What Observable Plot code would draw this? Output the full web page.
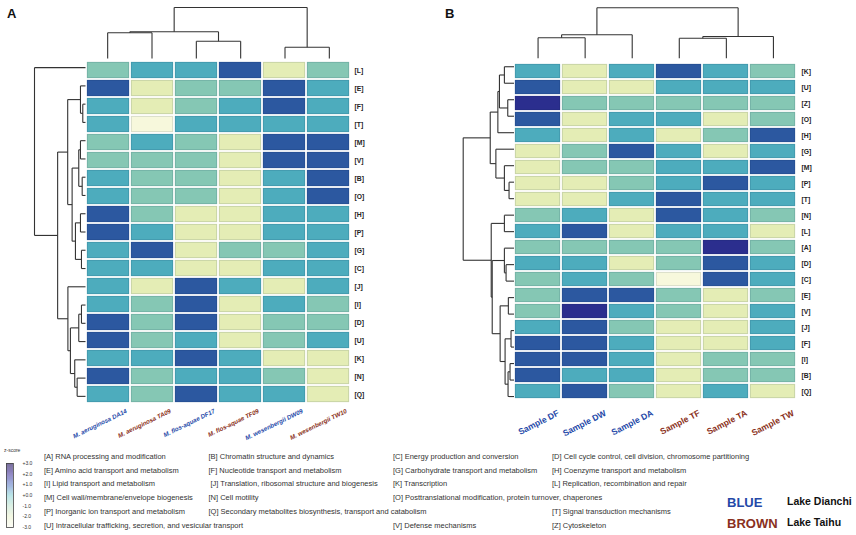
<!DOCTYPE html>
<html><head><meta charset="utf-8">
<script src="https://cdn.jsdelivr.net/npm/d3@7"></script>
<script src="https://cdn.jsdelivr.net/npm/@observablehq/plot@0.6"></script>
<style>
html,body{margin:0;padding:0;background:#fff;}
#root{position:relative;width:856px;height:535px;overflow:hidden;font-family:"Liberation Sans",Arial,sans-serif;}
#root .abs{position:absolute;}
.leg{position:absolute;font-size:7.5px;line-height:10px;color:#333;white-space:nowrap;}
.panel{position:absolute;font-size:13px;line-height:1;font-weight:bold;color:#111;}
</style></head><body><div id="root"></div>
<script>
// ---------- Panel A data ----------
const colsA = ["M. aeruginosa DA14","M. aeruginosa TA09","M. flos-aquae DF17","M. flos-aquae TF09","M. wesenbergii DW09","M. wesenbergii TW10"];
const lakesA = ["Dianchi","Taihu","Dianchi","Taihu","Dianchi","Taihu"];
const rowsA = ["[L]","[E]","[F]","[T]","[M]","[V]","[B]","[O]","[H]","[P]","[G]","[C]","[J]","[I]","[D]","[U]","[K]","[N]","[Q]"];
const zA = [
 [0,1,1,2,-1,0],
 [2,-1,0,0,2,1],
 [1,-1,0,1,2,1],
 [1,-2,1,1,1,1],
 [0,1,0,-1,2,2],
 [0,0,0,-1,2,2],
 [1,0,0,-1,1,2],
 [1,0,0,-1,1,2],
 [2,0,-1,-1,1,1],
 [2,1,-1,-1,1,1],
 [1,2,-1,0,0,1],
 [1,1,-1,-1,1,1],
 [1,-1,2,1,-1,1],
 [1,0,2,-1,1,0],
 [2,0,2,-1,0,0],
 [2,0,1,-1,0,1],
 [1,1,2,1,-1,-1],
 [2,0,1,1,0,-1],
 [1,0,2,1,1,-1]
];
// dendrograms: [left, right, mergeHeight], leaves are indices
const colTreeA = [[[0,1,25.7],[2,3,17.3],26.7],[4,5,11.3],51];
const rowTreeA = [0,
  [
    [[1,[2,3,2.7],5], [[[4,5,5],[6,7,3.3],6.7], [[8,9,5],[10,11,4],10], 13.3], 17.7],
    [12, [[[13,14,4],15,6.7], [16,[17,18,8.3],10.7], 15], 17.5],
    27.7],
  50.7];

// ---------- Panel B data ----------
const colsB = ["Sample DF","Sample DW","Sample DA","Sample TF","Sample TA","Sample TW"];
const lakesB = ["Dianchi","Dianchi","Dianchi","Taihu","Taihu","Taihu"];
const rowsB = ["[K]","[U]","[Z]","[O]","[H]","[G]","[M]","[P]","[T]","[N]","[L]","[A]","[D]","[C]","[E]","[V]","[J]","[F]","[I]","[B]","[Q]"];
const zB = [
 [1,-1,1,2,1,0],
 [2,-1,-1,1,1,1],
 [3,0,0,0,0,0],
 [2,-1,1,1,-1,0],
 [1,-1,1,-1,0,2],
 [-1,0,2,1,-1,1],
 [-1,0,0,1,1,2],
 [-1,-1,0,1,2,1],
 [-1,-1,1,2,1,1],
 [0,1,-1,2,1,0],
 [1,2,-1,1,1,-1],
 [0,0,0,0,3,0],
 [1,1,-1,0,2,1],
 [0,1,0,-2,2,1],
 [0,2,2,0,-1,0],
 [0,3,1,0,-1,1],
 [1,2,0,-1,-1,1],
 [2,2,1,-1,-1,1],
 [2,2,1,-1,0,0],
 [2,1,1,-1,0,0],
 [1,2,0,-1,1,-1]
];
const colTreeB = [[[0,1,20.4],2,23.4],[[3,4,20],5,21.7],50.4];
const rowTreeB = [
  [[[[0,1,9.7],[2,3,6.3],14.7],4,16.3], [5,[6,[7,8,5],9.7],18.3], 24],
  [[9,10,9.7], [[11,[12,13,8],9.7], [[14,15,5.7], [[16,17,3],[[18,19,4],20,6],9], 14], 22], 23],
  51.3];

// ---------- legend data ----------
const zTicks = [3,2,1,0,-1,-2,-3];
const zTickLabels = ["+3.0","+2.0","+1.0","+0.0","-1.0","-2.0","-3.0"];
const cogLegend = [
 [["[A] RNA processing and modification",0],["[B] Chromatin structure and dynamics",1],["[C] Energy production and conversion",2],["[D] Cell cycle control, cell division, chromosome partitioning",3]],
 [["[E] Amino acid transport and metabolism",0],["[F] Nucleotide transport and metabolism",1],["[G] Carbohydrate transport and metabolism",2],["[H] Coenzyme transport and metabolism",3]],
 [["[I] Lipid transport and metabolism",0],["[J] Translation, ribosomal structure and biogenesis",1],["[K] Transcription",2],["[L] Replication, recombination and repair",3]],
 [["[M] Cell wall/membrane/envelope biogenesis",0],["[N] Cell motility",1],["[O] Posttranslational modification, protein turnover, chaperones",2]],
 [["[P] Inorganic ion transport and metabolism",0],["[Q] Secondary metabolites biosynthesis, transport and catabolism",1],["[T] Signal transduction mechanisms",3]],
 [["[U] Intracellular trafficking, secretion, and vesicular transport",0],["[V] Defense mechanisms",2],["[Z] Cytoskeleton",3]]
];
const lakeKey = [["BLUE","Lake Dianchi"],["BROWN","Lake Taihu"]];

// ---------- rendering ----------
const root = document.getElementById("root");
const FONT = "Liberation Sans, Arial, sans-serif";
const svgStyle = {background:"transparent", overflow:"visible", fontFamily:FONT, maxWidth:"none"};
const BLUE = "#2448a8", BROWN = "#8a3020";
function place(el, left, top){ el.classList.add("abs"); el.style.left = left+"px"; el.style.top = top+"px"; root.appendChild(el); return el; }

function treeSegments(tree){
  const segs = [];
  function walk(n){
    if (typeof n === "number") return {p:n, h:0};
    const [a,b,h] = n;
    const A = walk(a), B = walk(b);
    segs.push({p1:A.p, h1:A.h, p2:A.p, h2:h});
    segs.push({p1:B.p, h1:B.h, p2:B.p, h2:h});
    segs.push({p1:A.p, h1:h, p2:B.p, h2:h});
    return {p:(A.p+B.p)/2, h};
  }
  walk(tree);
  return segs;
}

const heatColor = {type:"linear", domain:[-2,-1,0,1,2,3],
  range:["#f7f8dc","#e4edb5","#85c7b4","#4dacbd","#2c58a0","#2b2e8e"], interpolate:"rgb"};

function heatmap(o){
  const cells = [];
  o.rows.forEach((r,i)=>o.cols.forEach((c,j)=>cells.push({row:r, col:c, z:o.z[i][j]})));
  const labels = o.cols.map((c,j)=>({col:c, lake:o.lakes[j]}));
  const labelOpts = {x:"col", text:"col", frameAnchor:"bottom", textAnchor:"end", lineAnchor:"top",
    rotate:o.rotate, dx:o.dx, dy:o.dy, fontSize:o.colFont, fontWeight:"bold", fontStyle:o.italic?"italic":"normal"};
  return Plot.plot({
    width:o.width, height:o.height, marginLeft:o.mL, marginRight:o.mR, marginTop:o.mT, marginBottom:o.mB,
    style:svgStyle,
    x:{domain:o.cols, padding:0, axis:null},
    y:{domain:o.rows, padding:0, label:null},
    color:heatColor,
    marks:[
      Plot.cell(cells,{x:"col", y:"row", fill:"z", inset:0.9}),
      Plot.cell(cells,{x:"col", y:"row", fill:"none", stroke:"#0a2040", strokeOpacity:0.12, strokeWidth:1, inset:1.4}),
      Plot.axisY({anchor:"right", tickSize:0, tickPadding:o.rowPad, fontSize:o.rowFont, fontWeight:"bold", fill:"#222", label:null}),
      Plot.text(labels.filter(d=>d.lake==="Dianchi"), {...labelOpts, fill:BLUE}),
      Plot.text(labels.filter(d=>d.lake==="Taihu"), {...labelOpts, fill:BROWN})
    ]
  });
}

function colDendro(tree, n, width, height, mTop){
  const segs = treeSegments(tree);
  return Plot.plot({
    width, height, marginLeft:0, marginRight:0, marginTop:mTop, marginBottom:0, style:svgStyle,
    x:{domain:[-0.5, n-0.5], axis:null},
    y:{domain:[0, tree[2]], axis:null},
    marks:[Plot.link(segs,{x1:"p1", y1:"h1", x2:"p2", y2:"h2", stroke:"#333", strokeWidth:1.1})]
  });
}
function rowDendro(tree, n, width, height, mLeft){
  const segs = treeSegments(tree);
  return Plot.plot({
    width, height, marginLeft:mLeft, marginRight:0, marginTop:0, marginBottom:0, style:svgStyle,
    x:{domain:[tree[2], 0], axis:null},
    y:{domain:[n-0.5, -0.5], axis:null},
    marks:[Plot.link(segs,{x1:"h1", y1:"p1", x2:"h2", y2:"p2", stroke:"#333", strokeWidth:1.1})]
  });
}

// Panel A
place(heatmap({cols:colsA, lakes:lakesA, rows:rowsA, z:zA, width:430, height:445, mL:85, mR:79, mT:58, mB:40,
  rowFont:6.8, rowPad:3, colFont:6.2, rotate:-26, dx:17, dy:3, italic:true}), 0, 0);
place(colDendro(colTreeA, colsA.length, 266, 58, 7), 85, 0);
place(rowDendro(rowTreeA, rowsA.length, 85, 347, 34), 0, 58);

// Panel B
place(heatmap({cols:colsB, lakes:lakesB, rows:rowsB, z:zB, width:426, height:445, mL:83.5, mR:60, mT:57.7, mB:41,
  rowFont:6.8, rowPad:5, colFont:8.6, rotate:-27, dx:19, dy:5, italic:false}), 430, 0);
place(colDendro(colTreeB, colsB.length, 282.5, 57.7, 7.3), 513.5, 0);
place(rowDendro(rowTreeB, rowsB.length, 83.5, 346.3, 32.7), 430, 57.7);

// Panel letters
for (const [t,x] of [["A",7],["B",445]]){
  const d = document.createElement("div"); d.className="panel"; d.textContent=t; d.style.left=x+"px"; d.style.top="7px"; root.appendChild(d);
}

// z-score legend
const zSteps = d3.range(-3, 3, 0.05);
place(Plot.plot({
  width:50, height:90, marginLeft:6, marginRight:37, marginTop:18, marginBottom:8, style:svgStyle,
  x:{domain:[0,1], axis:null},
  y:{domain:[-3,3], axis:null},
  color:{type:"linear", domain:[-3,-2,-1,0,1,2,3],
    range:["#fbfbf2","#eff4d8","#cfeadb","#a3dbe0","#8097d3","#6a5cae","#4a3c78"], interpolate:"rgb"},
  marks:[
    Plot.rect(zSteps,{x1:0, x2:1, y1:d=>d, y2:d=>d+0.05, fill:d=>d+0.025}),
    Plot.frame({stroke:"#444", strokeWidth:0.8}),
    Plot.text(zTicks,{x:1, y:d=>d, text:(d,i)=>zTickLabels[i], dx:9, textAnchor:"start", fontSize:5, fill:"#333"})
  ]
}), 0, 445);
{ const d=document.createElement("div"); d.textContent="z-score"; d.style.cssText="position:absolute;left:4px;top:447px;font-size:5px;line-height:6px;color:#333;"; root.appendChild(d); }

// COG legend text
const legendColX = [44, 208.5, 393, 552];
const legendRowY = [457, 470.75, 484.5, 498.25, 512, 525.75];
cogLegend.forEach((row,ri)=>row.forEach(([txt,ci])=>{
  const d=document.createElement("div"); d.className="leg"; d.textContent=txt;
  d.style.left = (legendColX[ci] + (txt.startsWith("[J]")?2:0))+"px";
  d.style.top = (legendRowY[ri]-5.1)+"px";
  root.appendChild(d);
}));

// Lake colour key
lakeKey.forEach(([k,lake],i)=>{
  const a=document.createElement("div"); a.textContent=k;
  a.style.cssText=`position:absolute;left:727px;top:${495.7+i*21.3}px;font-size:13px;line-height:1;font-weight:bold;color:${i===0?BLUE:BROWN};`;
  root.appendChild(a);
  const b=document.createElement("div"); b.textContent=lake;
  b.style.cssText=`position:absolute;left:787px;top:${496.3+i*20.5}px;font-size:10.5px;line-height:1;font-weight:bold;color:#111;`;
  root.appendChild(b);
});
</script></body></html>
